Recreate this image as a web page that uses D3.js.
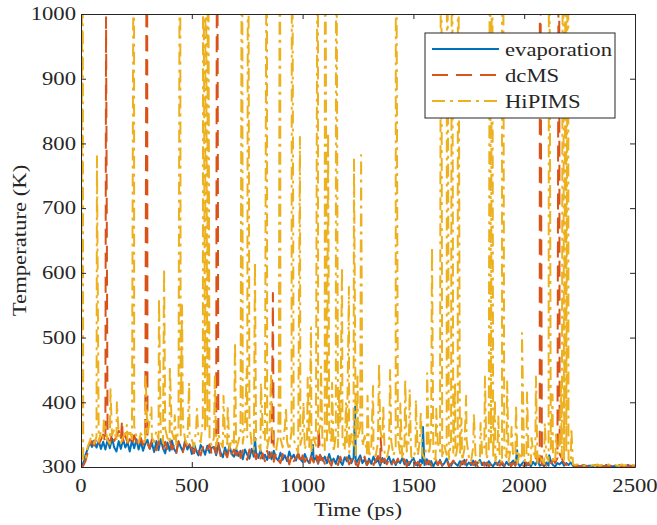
<!DOCTYPE html>
<html>
<head>
<meta charset="UTF-8">
<script src="https://d3js.org/d3.v7.min.js"></script>
<style>
  body { margin: 0; background: #fff; }
  svg text { font-family: "Liberation Serif", "Times New Roman", serif; fill: #262626; }
</style>
</head>
<body>
<div id="chart"></div>
<script>
// temperature samples, one every 10 ps from 0 to 2500 ps
const sampleStep = 10;

const evaporation = [
  300,306,318,328,338,331,341,330,340,328,
  339,327,342,329,344,330,324,340,328,343,
  330,338,324,341,329,343,327,339,325,336,
  342,328,337,323,340,326,343,329,321,338,
  325,341,328,322,339,331,324,342,327,335,
  320,336,325,318,334,329,319,333,322,330,
  331,318,335,322,315,330,319,333,320,316,
  328,317,325,312,327,319,313,328,316,322,
  314,326,313,319,311,323,312,325,314,310,
  322,311,318,309,324,313,319,310,321,312,
  308,320,311,306,319,309,315,305,318,310,
  316,306,320,308,313,305,317,309,303,315,
  309,318,306,314,304,311,318,306,312,303,
  313,305,316,307,311,302,314,306,309,316,
  305,312,303,310,306,314,304,311,303,309,
  314,305,302,311,306,303,312,304,309,301,
  308,303,311,302,306,313,304,302,309,305,
  302,309,304,311,302,307,303,310,302,306,
  311,303,307,302,309,304,301,308,303,310,
  304,301,308,303,306,310,302,307,301,305,
  309,302,306,301,308,303,310,302,305,301,
  307,302,309,303,301,306,304,308,302,306,
  303,307,302,301,303,301,302,303,301,302,
  302,301,303,302,301,302,301,303,302,301,
  301,302,301,303,302,301,302,303,301,302,
  302
];

const dcMS = [
  300,302,309,322,334,340,333,345,336,342,
  350,338,346,335,352,340,347,356,342,336,
  348,337,343,333,349,338,330,345,334,347,
  336,329,343,331,326,340,330,325,339,328,
  342,327,335,322,340,329,323,338,326,334,
  328,321,334,325,318,331,322,327,335,319,
  330,321,333,317,328,322,315,331,320,327,
  318,330,314,326,320,311,327,315,323,312,
  324,313,321,309,325,314,319,308,322,311,
  306,320,311,316,304,319,309,314,321,305,
  318,308,313,303,316,307,321,306,311,314,
  305,317,308,302,314,309,303,316,306,312,
  315,304,310,318,306,301,313,307,316,303,
  308,314,303,310,317,302,308,313,304,311,
  302,309,306,313,303,307,312,301,308,305,
  311,303,308,301,309,313,304,310,302,307,
  313,303,309,302,306,311,301,305,310,303,
  306,301,309,304,311,302,307,303,309,301,
  304,310,302,307,301,305,309,303,306,302,
  308,302,305,310,301,306,303,309,302,304,
  301,307,303,309,304,311,316,308,303,306,
  302,308,304,312,306,314,320,313,306,303,
  306,302,304,301,302,301,302,301,302,301,
  302,301,302,301,302,302,301,302,301,302,
  301,302,302,301,302,301,302,301,302,301,
  301
];

const hipims = [
  300,312,309,331,340,352,336,347,339,355,
  345,362,341,336,349,358,340,351,337,346,
  352,339,358,343,363,347,338,352,344,335,
  350,372,346,338,356,343,352,337,359,345,
  338,354,343,335,361,349,366,341,335,350,
  342,331,360,345,338,372,354,363,340,333,
  345,332,351,338,330,348,335,328,344,333,
  328,339,355,336,362,346,370,335,327,341,
  336,325,358,342,329,347,366,333,324,348,
  344,330,362,339,326,355,343,331,322,334,
  350,327,342,331,322,346,333,351,365,330,
  325,341,357,336,323,349,331,366,342,326,
  338,322,351,330,318,344,362,332,348,321,
  315,333,324,317,338,358,341,322,314,330,
  340,318,329,345,321,312,336,324,341,316,
  312,328,318,344,321,313,336,319,347,315,
  311,338,324,314,333,319,312,341,322,313,
  334,318,310,327,342,316,308,331,319,310,
  307,321,331,312,326,338,314,309,327,312,
  306,322,315,309,331,318,310,306,324,312,
  308,318,311,305,326,312,306,320,310,305,
  316,309,328,311,306,321,335,314,308,324,
  312,306,304,303,304,302,303,302,303,302,
  302,303,302,304,302,303,302,302,304,302,
  302,303,302,302,304,302,303,302,302,303,
  302
];

// short excursions: [time (ps), peak temperature (K)]
const evaporationSpikes = [
  [785, 345], [1047, 334], [1237, 393], [1543, 362], [1968, 326], [2113, 318]
];
const dcmsSpikes = [
  [113, 995], [185, 372], [298, 1400], [614, 1400], [866, 569], [1072, 362],
  [1352, 345], [2071, 1400], [2157, 1400]
];
const hipimsSpikes = [
  [7, 1400], [72, 780], [103, 372], [133, 420], [162, 400], [207, 365], [239, 1400],
  [291, 445], [318, 392], [352, 561], [375, 607], [401, 455], [423, 380], [447, 1400],
  [456, 550], [488, 430], [523, 390], [551, 1400], [562, 1400], [573, 1400], [604, 440],
  [643, 410], [662, 395], [695, 493], [727, 1400], [748, 452], [754, 1400], [785, 617],
  [812, 430], [839, 1400], [858, 445], [893, 420], [898, 1400], [925, 392], [952, 1400],
  [988, 810], [1004, 400], [1023, 438], [1038, 516], [1069, 1400], [1083, 455],
  [1101, 1400], [1115, 816], [1133, 430], [1151, 1400], [1165, 420], [1178, 609],
  [1196, 400], [1209, 578], [1232, 775], [1248, 440], [1264, 782], [1293, 410],
  [1318, 425], [1345, 460], [1364, 395], [1395, 450], [1421, 1400], [1441, 398],
  [1463, 436], [1483, 420], [1511, 404], [1533, 385], [1562, 445], [1584, 640],
  [1603, 390], [1625, 1400], [1652, 1400], [1674, 1400], [1688, 430], [1701, 1400],
  [1717, 375], [1738, 410], [1773, 383], [1803, 368], [1823, 440], [1846, 1400],
  [1855, 1400], [1868, 405], [1883, 378], [1900, 1400], [1904, 1400], [1923, 432],
  [1943, 362], [1963, 396], [1990, 507], [2013, 415], [2033, 345], [2053, 440],
  [2093, 368], [2112, 1400], [2128, 412], [2143, 350], [2166, 430], [2175, 1400],
  [2189, 1400], [2198, 1400], [2213, 360]
];

const seriesNames = ["evaporation", "dcMS", "HiPIMS"];
const xTicks = [0, 500, 1000, 1500, 2000, 2500];
const yTicks = [300, 400, 500, 600, 700, 800, 900, 1000];

const colors = ["#0072BD", "#D95319", "#EDB120"];
const dashes = [null, "16,8", "13,5,3,5"];
const axisColor = "#262626";
const stretch = 1.26; // text in the figure is wider than plain Times

const width = 657, height = 525;
const margin = { top: 14, right: 22, bottom: 58, left: 81 };

const svg = d3.select("#chart").append("svg")
  .attr("width", width)
  .attr("height", height);

const x = d3.scaleLinear().domain([0, 2500]).range([margin.left, width - margin.right]);
const y = d3.scaleLinear().domain([300, 1000]).range([height - margin.bottom, margin.top]);

svg.append("defs").append("clipPath").attr("id", "plotClip")
  .append("rect")
  .attr("x", x(0)).attr("y", y(1000))
  .attr("width", x(2500) - x(0)).attr("height", y(300) - y(1000));

function build(base, spikes) {
  const pts = base.map((v, i) => ({ t: i * sampleStep, v }));
  spikes.forEach(([t, v]) => pts.push({ t, v }));
  pts.sort((a, b) => a.t - b.t);
  return pts;
}

const series = [
  build(evaporation, evaporationSpikes),
  build(dcMS, dcmsSpikes),
  build(hipims, hipimsSpikes)
];

const line = d3.line().x(d => x(d.t)).y(d => y(d.v));

const plot = svg.append("g").attr("clip-path", "url(#plotClip)");
series.forEach((pts, i) => {
  plot.append("path")
    .datum(pts)
    .attr("fill", "none")
    .attr("stroke", colors[i])
    .attr("stroke-width", 2)
    .attr("stroke-linejoin", "round")
    .attr("stroke-dasharray", dashes[i])
    .attr("d", line);
});

// box and inward ticks on all four sides
function styleAxis(g) {
  g.selectAll("path, line").attr("stroke", axisColor).attr("stroke-width", 1);
}
svg.append("g").attr("transform", `translate(0,${y(300)})`)
  .call(d3.axisBottom(x).tickValues(xTicks).tickSizeInner(-5).tickSizeOuter(0).tickFormat(""))
  .call(styleAxis);
svg.append("g").attr("transform", `translate(0,${y(1000)})`)
  .call(d3.axisTop(x).tickValues(xTicks).tickSizeInner(-5).tickSizeOuter(0).tickFormat(""))
  .call(styleAxis);
svg.append("g").attr("transform", `translate(${x(0)},0)`)
  .call(d3.axisLeft(y).tickValues(yTicks).tickSizeInner(-5).tickSizeOuter(0).tickFormat(""))
  .call(styleAxis);
svg.append("g").attr("transform", `translate(${x(2500)},0)`)
  .call(d3.axisRight(y).tickValues(yTicks).tickSizeInner(-5).tickSizeOuter(0).tickFormat(""))
  .call(styleAxis);

// tick labels
svg.selectAll(".xlab").data(xTicks).enter().append("text")
  .attr("transform", d => `translate(${x(d)},${y(300) + 25}) scale(${stretch},1)`)
  .attr("text-anchor", "middle")
  .style("font-size", "18px")
  .text(d => d);

svg.selectAll(".ylab").data(yTicks).enter().append("text")
  .attr("transform", d => `translate(${x(0) - 5},${y(d)}) scale(${stretch},1)`)
  .attr("text-anchor", "end")
  .attr("dy", "0.35em")
  .style("font-size", "18px")
  .text(d => d);

// axis titles
svg.append("text")
  .attr("transform", `translate(${(x(0) + x(2500)) / 2},516) scale(${stretch},1)`)
  .attr("text-anchor", "middle")
  .style("font-size", "18px")
  .text("Time (ps)");

svg.append("text")
  .attr("transform", `translate(26,${(y(300) + y(1000)) / 2}) rotate(-90) scale(${stretch},1)`)
  .attr("text-anchor", "middle")
  .style("font-size", "18px")
  .text("Temperature (K)");

// legend
const legend = svg.append("g").attr("transform", "translate(425,33)");
legend.append("rect")
  .attr("width", 190).attr("height", 85)
  .attr("fill", "#fff")
  .attr("stroke", axisColor)
  .attr("stroke-width", 1);

seriesNames.forEach((name, i) => {
  const row = legend.append("g").attr("transform", `translate(0,${16 + i * 26})`);
  row.append("line")
    .attr("x1", 7).attr("x2", 74)
    .attr("stroke", colors[i])
    .attr("stroke-width", 2)
    .attr("stroke-dasharray", dashes[i]);
  row.append("text")
    .attr("transform", `translate(80,7) scale(${stretch},1)`)
    .style("font-size", "18px")
    .text(name);
});
</script>
</body>
</html>
